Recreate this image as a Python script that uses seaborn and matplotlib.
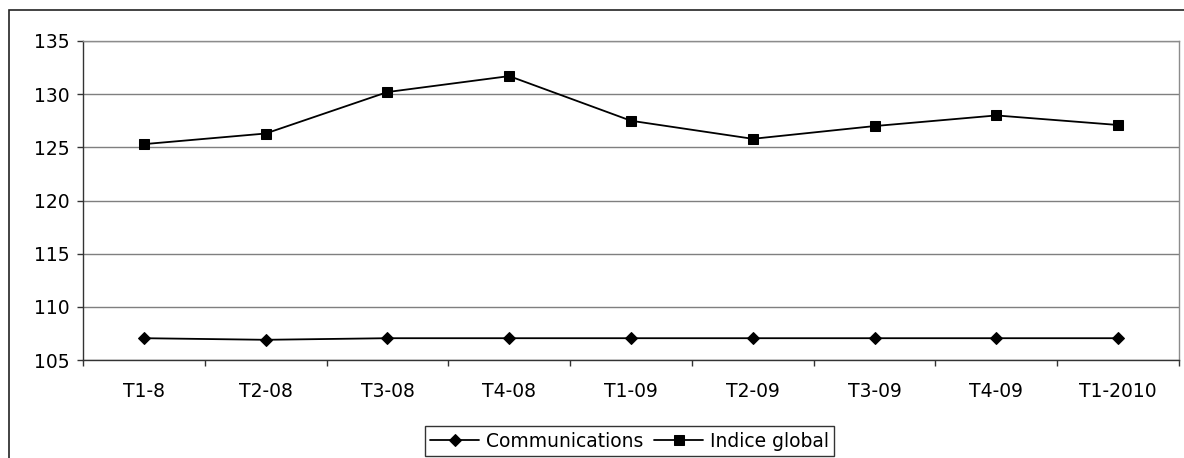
import matplotlib
matplotlib.use("Agg")
import matplotlib.pyplot as plt
import seaborn as sns
import pandas as pd
from matplotlib.patches import Rectangle
from matplotlib.ticker import FixedLocator

# ---- data ----
categories = ["T1-8", "T2-08", "T3-08", "T4-08", "T1-09", "T2-09", "T3-09", "T4-09", "T1-2010"]
communications = [107.05, 106.9, 107.05, 107.05, 107.05, 107.05, 107.05, 107.05, 107.05]
indice_global = [125.3, 126.3, 130.2, 131.7, 127.5, 125.8, 127.0, 128.0, 127.1]
series_names = ["Communications", "Indice global"]
y_ticks = [105, 110, 115, 120, 125, 130, 135]

rows = []
for name, vals in zip(series_names, [communications, indice_global]):
    for i, (c, v) in enumerate(zip(categories, vals)):
        rows.append({"pos": i, "cat": c, "series": name, "value": v})
df = pd.DataFrame(rows)

sns.set_theme(style="white")
plt.rcParams["font.family"] = ["DejaVu Sans"]
plt.rcParams["text.color"] = "black"

FS = 13.5
fig = plt.figure(figsize=(11.84, 4.58), dpi=100)
ax = fig.add_axes([83 / 1184, 1 - 360 / 458, (1179 - 83) / 1184, (360 - 41) / 458])

sns.lineplot(data=df, x="pos", y="value", hue="series", style="series",
             palette={"Communications": "black", "Indice global": "black"},
             markers={"Communications": "D", "Indice global": "s"},
             dashes=False, sort=False, linewidth=1.3, markersize=7,
             markeredgecolor="black", ax=ax, legend=True)
for line in ax.get_lines():
    if line.get_marker() == "D":
        line.set_markersize(6.5)

ax.set_xlim(-0.5, len(categories) - 0.5)
ax.set_ylim(105, 135)
ax.set_yticks(y_ticks)
ax.set_yticklabels([str(t) for t in y_ticks], fontsize=FS, color="black")
ax.set_xticks(range(len(categories)))
ax.set_xticklabels(categories, fontsize=FS, color="black")
ax.xaxis.set_minor_locator(FixedLocator([i - 0.5 for i in range(len(categories) + 1)]))
ax.tick_params(axis="x", which="both", bottom=True)
ax.tick_params(axis="y", which="both", left=True)
ax.tick_params(axis="x", which="major", length=0, pad=16)
ax.tick_params(axis="x", which="minor", length=4.5, width=1, color="#333333", direction="out")
ax.tick_params(axis="y", which="major", length=4.5, width=1, color="#333333", direction="out", pad=5)
ax.set_xlabel("")
ax.set_ylabel("")

ax.yaxis.grid(True, color="#7f7f7f", linewidth=1)
ax.xaxis.grid(False)
ax.set_axisbelow(True)
for side in ["top", "right"]:
    ax.spines[side].set_color("#8c8c8c")
    ax.spines[side].set_linewidth(1)
for side in ["left", "bottom"]:
    ax.spines[side].set_color("#333333")
    ax.spines[side].set_linewidth(1)

# legend
handles, labels = ax.get_legend_handles_labels()
ax.get_legend().remove()
for h in handles:
    h.set_color("black")
    h.set_markerfacecolor("black")
    h.set_markeredgecolor("black")
leg = fig.legend(handles, labels, loc="upper center", bbox_to_anchor=(629.5 / 1184, 1 - 426 / 458),
                 ncol=2, fontsize=FS, frameon=True, fancybox=False, handlelength=2.6,
                 handletextpad=0.35, columnspacing=0.6, borderpad=0.3, borderaxespad=0)
for t in leg.get_texts():
    t.set_color("black")
leg.get_frame().set_edgecolor("black")
leg.get_frame().set_linewidth(1)

# outer chart frame
fig.patches.append(Rectangle((9 / 1184, -0.1), 1.2, 1 - 10 / 458 + 0.1, transform=fig.transFigure,
                             fill=False, edgecolor="#222222", linewidth=1.2, zorder=0))

fig.savefig("out.png", dpi=100)
